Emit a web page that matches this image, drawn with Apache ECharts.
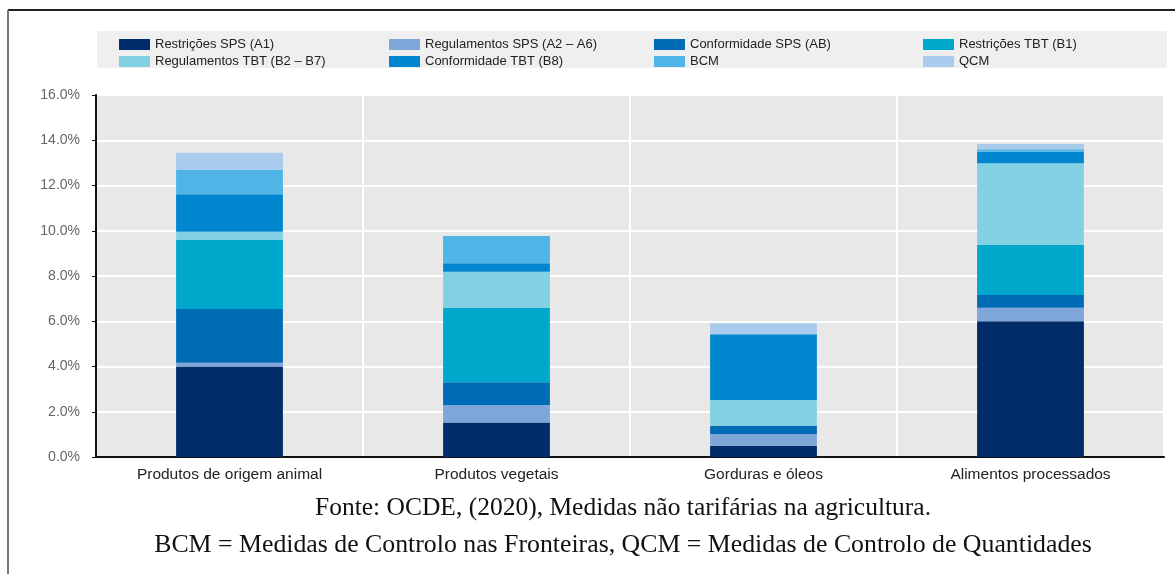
<!DOCTYPE html>
<html>
<head>
<meta charset="utf-8">
<script src="https://cdn.jsdelivr.net/npm/echarts@6/dist/echarts.min.js"></script>
<style>
  html, body { margin: 0; padding: 0; background: #fff; }
  #chart { width: 1175px; height: 574px; }
</style>
</head>
<body>
<div id="chart"></div>
<script>
  // categorias e valores (%)
  var categorias = ['Produtos de origem animal', 'Produtos vegetais', 'Gorduras e óleos', 'Alimentos processados'];
  var restricoesSPS = [4.0, 1.53, 0.5, 6.0];
  var regulamentosSPS = [0.17, 0.77, 0.52, 0.6];
  var conformidadeSPS = [2.37, 1.0, 0.36, 0.56];
  var restricoesTBT = [3.05, 3.3, 0, 2.21];
  var regulamentosTBT = [0.37, 1.59, 1.14, 3.61];
  var conformidadeTBT = [1.65, 0.37, 2.9, 0.51];
  var bcm = [1.08, 1.21, 0, 0.11];
  var qcm = [0.76, 0, 0.49, 0.23];

  var nomes = ['Restrições SPS (A1)', 'Regulamentos SPS (A2 – A6)', 'Conformidade SPS (AB)', 'Restrições TBT (B1)',
               'Regulamentos TBT (B2 – B7)', 'Conformidade TBT (B8)', 'BCM', 'QCM'];
  var cores = ['#002d6a', '#7ea6d8', '#006bb5', '#00a9cb', '#82d1e3', '#0086cf', '#4fb4e6', '#aacbec'];
  var valores = [restricoesSPS, regulamentosSPS, conformidadeSPS, restricoesTBT,
                 regulamentosTBT, conformidadeTBT, bcm, qcm];

  var myChart = echarts.init(document.getElementById('chart'));

  var series = nomes.map(function (n, i) {
    return {
      name: n,
      type: 'bar',
      stack: 'total',
      barWidth: '40%',
      data: valores[i],
      itemStyle: { color: cores[i] },
      animation: false
    };
  });

  function legenda(left, items) {
    return {
      left: left,
      top: 33,
      orient: 'vertical',
      icon: 'rect',
      itemWidth: 31,
      itemHeight: 11,
      itemGap: 4,
      data: items,
      textStyle: { fontFamily: 'Liberation Sans, Arial', fontSize: 13, color: '#222' }
    };
  }

  var option = {
    textStyle: { fontFamily: 'Liberation Sans, Arial' },
    graphic: [
      { type: 'rect', left: 97, top: 31, shape: { width: 1070, height: 37 }, style: { fill: '#efefef' }, z: -10 },
      { type: 'line', shape: { x1: 8, y1: 10, x2: 1175, y2: 10 }, style: { stroke: '#222', lineWidth: 2 } },
      { type: 'line', shape: { x1: 8, y1: 10, x2: 8, y2: 574 }, style: { stroke: '#777', lineWidth: 2 } },
      {
        type: 'text', x: 623, y: 508,
        style: { text: 'Fonte: OCDE, (2020), Medidas não tarifárias na agricultura.', align: 'center', verticalAlign: 'middle', fontFamily: 'Liberation Serif, Times New Roman', fontSize: 25.5, fill: '#111' }
      },
      {
        type: 'text', x: 623, y: 545,
        style: { text: 'BCM = Medidas de Controlo nas Fronteiras, QCM = Medidas de Controlo de Quantidades', align: 'center', verticalAlign: 'middle', fontFamily: 'Liberation Serif, Times New Roman', fontSize: 25.8, fill: '#111' }
      }
    ],
    legend: [
      legenda(114, [nomes[0], nomes[4]]),
      legenda(384, [nomes[1], nomes[5]]),
      legenda(649, [nomes[2], nomes[6]]),
      legenda(918, [nomes[3], nomes[7]])
    ],
    grid: {
      left: 96,
      right: 11,
      top: 95,
      bottom: 117,
      show: true,
      backgroundColor: '#e8e8e8',
      borderWidth: 0
    },
    xAxis: {
      type: 'category',
      data: categorias,
      axisLine: { lineStyle: { color: '#111', width: 2 } },
      axisTick: { inside: true, length: 5, lineStyle: { color: '#111' } },
      axisLabel: { color: '#222', fontSize: 15.5, margin: 10 },
      splitLine: { show: true, lineStyle: { color: '#fff', width: 2 } }
    },
    yAxis: {
      type: 'value',
      min: 0,
      max: 16,
      interval: 2,
      axisLine: { show: true, lineStyle: { color: '#111', width: 2 } },
      axisTick: { show: true, length: 4, lineStyle: { color: '#111' } },
      axisLabel: {
        color: '#666',
        fontSize: 14,
        margin: 16,
        formatter: function (v) { return v.toFixed(1) + '%'; }
      },
      splitLine: { lineStyle: { color: '#fff', width: 2 } }
    },
    series: series
  };
  myChart.setOption(option);
</script>
</body>
</html>
